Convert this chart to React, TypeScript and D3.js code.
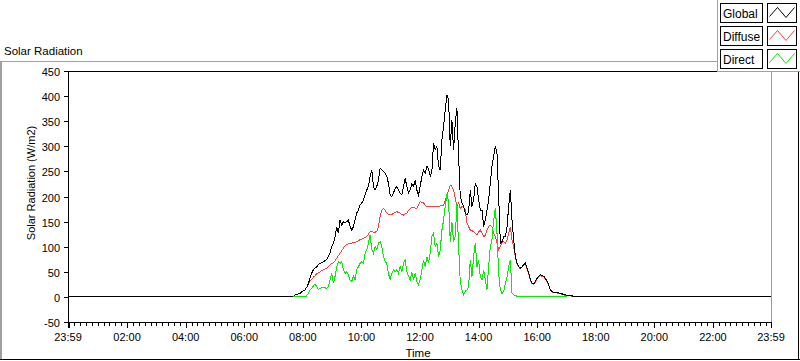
import React from 'react';
import * as d3 from 'd3';

// logger samples, minutes after midnight
const startMinute = 460.5;
const stepMinutes = 3.42;

const globalValues = [
  0, 4, 5, 6, 7, 10, 12, 14, 19, 26,
  37, 47, 54, 57, 60, 64, 67, 68, 70, 72,
  74, 80, 87, 100, 107, 120, 140, 127, 153, 143,
  150, 147, 150, 153, 140, 133, 140, 153, 167, 173,
  183, 187, 193, 203, 213, 220, 240, 253, 220, 213,
  220, 233, 256, 253, 250, 246, 240, 226, 203, 200,
  207, 216, 220, 213, 207, 203, 220, 236, 220, 207,
  213, 226, 220, 233, 213, 203, 220, 240, 253, 246,
  260, 256, 240, 250, 306, 293, 300, 260, 253, 313,
  339, 373, 402, 393, 300, 353, 293, 346, 376, 280,
  200, 187, 180, 167, 163, 170, 213, 180, 193, 226,
  220, 193, 173, 173, 140, 153, 173, 193, 226, 260,
  280, 300, 286, 200, 107, 110, 120, 120, 140, 180,
  213, 153, 114, 80, 67, 60, 57, 60, 64, 67,
  57, 47, 34, 27, 26, 31, 37, 41, 44, 42,
  41, 37, 31, 24, 14, 11, 9, 9, 9, 8,
  7, 6, 5, 4, 3, 3, 2, 2, 1, 0
];

const diffuseValues = [
  0, 4, 5, 6, 7, 10, 12, 14, 19, 26,
  32, 35, 39, 42, 46, 48, 50, 52, 54, 56,
  57, 60, 64, 66, 68, 72, 77, 82, 87, 92,
  97, 102, 104, 106, 107, 107, 108, 109, 110, 112,
  114, 115, 117, 119, 120, 125, 130, 130, 129, 129,
  130, 140, 160, 172, 176, 173, 167, 164, 163, 164,
  167, 168, 170, 168, 167, 164, 163, 165, 167, 172,
  176, 178, 179, 177, 176, 183, 190, 188, 187, 183,
  180, 180, 179, 180, 181, 180, 180, 180, 181, 182,
  182, 193, 203, 213, 223, 220, 213, 196, 180, 187,
  176, 180, 178, 173, 147, 140, 133, 132, 130, 127,
  123, 130, 133, 127, 120, 123, 133, 140, 143, 140,
  127, 120, 107, 94, 100, 107, 110, 107, 114, 127,
  140, 114, 100, 79, 66, 60, 56, 59, 63, 66,
  56, 46, 33, 26, 25, 30, 36, 40, 43, 41,
  40, 36, 30, 23, 14, 10, 9, 8, 8, 7,
  6, 5, 4, 3, 3, 2, 2, 1, 1, 0
];

const directValues = [
  0, 0, 0, 0, 0, 0, 0, 0, 2, 7,
  14, 17, 22, 25, 21, 15, 17, 18, 19, 18,
  17, 21, 34, 47, 27, 41, 60, 70, 67, 70,
  54, 47, 50, 44, 34, 31, 41, 34, 54, 60,
  67, 70, 67, 87, 94, 107, 124, 94, 87, 100,
  94, 107, 110, 100, 80, 70, 67, 47, 34, 47,
  54, 50, 54, 47, 60, 50, 67, 74, 50, 41,
  34, 50, 34, 47, 31, 24, 34, 54, 74, 60,
  80, 67, 87, 120, 127, 100, 107, 80, 94, 133,
  153, 180, 205, 190, 110, 150, 110, 120, 185, 100,
  30, 14, 4, 11, 14, 21, 74, 40, 80, 107,
  60, 74, 40, 34, 54, 34, 14, 60, 100, 114,
  153, 177, 127, 47, 14, 7, 11, 27, 40, 60,
  74, 7, 4, 3, 1, 0, 0, 0, 0, 0,
  0, 0, 0, 0, 0, 0, 0, 0, 0, 0,
  0, 0, 0, 0, 0, 0, 0, 0, 0, 0,
  0, 0, 0, 0, 0
];

const seriesNames = ['Global', 'Diffuse', 'Direct'];
const seriesColors = ['#000000', '#ff3c3c', '#00ee00'];

const yTicks = [450, 400, 350, 300, 250, 200, 150, 100, 50, 0, -50];
const xMajorMinutes = [-1, 120, 240, 360, 480, 600, 720, 840, 960, 1080, 1200, 1320, 1439];
const xMajorLabels = ['23:59', '02:00', '04:00', '06:00', '08:00', '10:00', '12:00', '14:00', '16:00', '18:00', '20:00', '22:00', '23:59'];

const FONT = '"Liberation Sans", Arial, sans-serif';
const plot = { left: 68, right: 771, top: 71, bottom: 322 };

const snap = (v: number) => Math.round(v) + 0.5;

export default function App() {
  const x = d3.scaleLinear().domain([-1, 1439]).range([plot.left, plot.right]);
  const y = d3.scaleLinear().domain([-50, 450]).range([plot.bottom, plot.top]);

  const samples = (vals: number[]) => vals.map((v, i) => [startMinute + i * stepMinutes, v] as [number, number]);
  const fullDay = (vals: number[]) => [[-1, 0], ...samples(vals), [1439, 0]] as [number, number][];

  const line = d3.line<[number, number]>()
    .x(d => x(d[0]))
    .y(d => y(d[1]));

  // draw order: diffuse, global, direct
  const paths = [
    { d: line(fullDay(diffuseValues)), color: seriesColors[1] },
    { d: line(fullDay(globalValues)), color: seriesColors[0] },
    { d: line(samples(directValues)), color: seriesColors[2] },
  ];

  const minorTicks = d3.range(12, 1440, 12).filter(m => m % 120 !== 0 && m < 1439);

  const ax = snap(plot.left);
  const ab = snap(plot.bottom);
  const at = snap(plot.top);
  const ar = snap(plot.right);

  const legendTop = [3.5, 26.5, 49.5];

  return (
    <svg width={800} height={361} style={{ position: 'absolute', left: 0, top: 0, background: '#fff' }}>
      {/* outer frame */}
      <rect x={0} y={61} width={2} height={299} fill="#a0a0a0" />
      <line x1={0} x2={717} y1={61.5} y2={61.5} stroke="#a0a0a0" />
      <line x1={0} x2={800} y1={359.5} y2={359.5} stroke="#000" />
      <line x1={798.5} x2={798.5} y1={72} y2={360} stroke="#000" />

      <text x={4} y={55} fontFamily={FONT} fontSize={11.5} fill="#000">Solar Radiation</text>

      {/* plot box */}
      <line x1={ar} x2={ar} y1={at} y2={ab} stroke="#9a9a9a" shapeRendering="crispEdges" />
      <line x1={ax} x2={ar} y1={at} y2={at} stroke="#000" shapeRendering="crispEdges" />

      {paths.map((p, i) => (
        <path key={i} d={p.d || ''} fill="none" stroke={p.color} strokeWidth={1} shapeRendering="crispEdges" />
      ))}

      <line x1={ax} x2={ax} y1={at} y2={ab} stroke="#000" shapeRendering="crispEdges" />
      <line x1={ax} x2={ar} y1={ab} y2={ab} stroke="#000" shapeRendering="crispEdges" />

      {/* y axis */}
      {yTicks.map(t => {
        const yy = snap(y(t));
        return (
          <g key={t}>
            <line x1={ax - 5} x2={ax} y1={yy} y2={yy} stroke="#000" shapeRendering="crispEdges" />
            <text x={60} y={yy + 4} textAnchor="end" fontFamily={FONT} fontSize={11} fill="#000">{t}</text>
          </g>
        );
      })}
      <text transform={`translate(35,183) rotate(-90)`} textAnchor="middle" fontFamily={FONT} fontSize={11} fill="#000">
        Solar Radiation (W/m2)
      </text>

      {/* x axis */}
      {minorTicks.map(m => (
        <line key={m} x1={snap(x(m))} x2={snap(x(m))} y1={ab} y2={ab + 3.5} stroke="#000" shapeRendering="crispEdges" />
      ))}
      {xMajorMinutes.map((m, i) => (
        <g key={m}>
          <line x1={snap(x(m))} x2={snap(x(m))} y1={ab} y2={ab + 5.5} stroke="#000" strokeWidth={i === 0 ? 2 : 1} shapeRendering="crispEdges" />
          <text x={x(m)} y={341} textAnchor="middle" fontFamily={FONT} fontSize={11} fill="#000">{xMajorLabels[i]}</text>
        </g>
      ))}
      <text x={418} y={357} textAnchor="middle" fontFamily={FONT} fontSize={11.5} fill="#000">Time</text>

      {/* legend */}
      <rect x={717.5} y={-1} width={90} height={72.5} fill="#fff" stroke="#a0a0a0" />
      {seriesNames.map((name, i) => {
        const top = legendTop[i];
        const sx = 767.5;
        const zig = [[2, 13], [10, 4], [18.5, 14], [27, 4]].map(p => `${sx + p[0]},${top + p[1]}`).join(' ');
        return (
          <g key={name}>
            <rect x={720.5} y={top} width={42} height={19} fill="#fff" stroke="#000" />
            <text x={723} y={top + 14.5} fontFamily={FONT} fontSize={12} fill="#000">{name}</text>
            <rect x={sx} y={top} width={29} height={19} fill="#fff" stroke="#000" />
            <polyline points={zig} fill="none" stroke={seriesColors[i]} strokeWidth={1} />
          </g>
        );
      })}
    </svg>
  );
}
